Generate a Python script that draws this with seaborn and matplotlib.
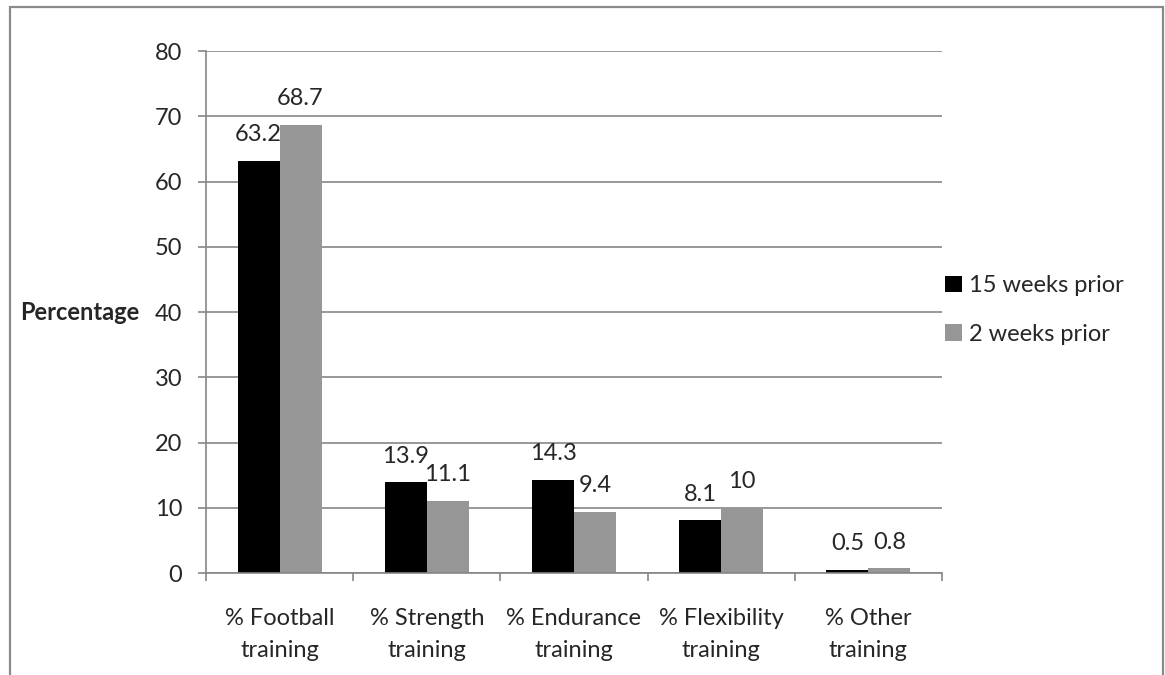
import matplotlib
matplotlib.use("Agg")
import matplotlib.pyplot as plt
from matplotlib.patches import Rectangle
import seaborn as sns
import pandas as pd

categories = ["% Football\ntraining", "% Strength\ntraining", "% Endurance\ntraining",
              "% Flexibility\ntraining", "% Other\ntraining"]
series_names = ["15 weeks prior", "2 weeks prior"]
weeks15 = [63.2, 13.9, 14.3, 8.1, 0.5]
weeks2 = [68.7, 11.1, 9.4, 10, 0.8]
value_labels15 = ["63.2", "13.9", "14.3", "8.1", "0.5"]
value_labels2 = ["68.7", "11.1", "9.4", "10", "0.8"]
y_ticks = [0, 10, 20, 30, 40, 50, 60, 70, 80]

sns.set_theme(style="white")
plt.rcParams["font.family"] = ["Lato", "DejaVu Sans"]

df = pd.DataFrame({
    "category": categories * 2,
    "series": [series_names[0]] * len(categories) + [series_names[1]] * len(categories),
    "value": weeks15 + weeks2,
})

fig = plt.figure(figsize=(11.65, 6.75), dpi=100)
ax = fig.add_axes([0.1768, 0.1511, 0.8086 - 0.1768, 0.9244 - 0.1511])

grid_c = "#868686"
fs = 17
sns.barplot(data=df, x="category", y="value", hue="series", order=categories,
            hue_order=series_names, palette=["#000000", "#969696"],
            width=0.57, gap=0, saturation=1, linewidth=0, ax=ax, legend=True)

ax.set_ylim(0, 80)
ax.set_xlim(-0.5, len(categories) - 0.5)
ax.set_yticks(y_ticks)
ax.yaxis.grid(True, color=grid_c, linewidth=1.2)
ax.set_axisbelow(True)
for side in ["top", "right"]:
    ax.spines[side].set_visible(False)
for side in ["left", "bottom"]:
    ax.spines[side].set_color(grid_c)
    ax.spines[side].set_linewidth(1.2)

ax.tick_params(axis="y", which="major", length=6, width=1.2, color=grid_c,
               pad=11, labelsize=fs, left=True)
ax.set_xticks(range(len(categories)))
ax.set_xticklabels(categories, linespacing=1.65)
ax.tick_params(axis="x", which="major", length=0, pad=25, labelsize=fs)
ax.set_xticks([i - 0.5 for i in range(len(categories) + 1)], minor=True)
ax.tick_params(axis="x", which="minor", length=6, width=1.2, color=grid_c, bottom=True)

ax.set_xlabel("")
ax.set_ylabel("Percentage", rotation=0, fontsize=fs, fontweight="bold",
              va="center", ha="right")
ax.yaxis.set_label_coords(-0.09, 0.5)

for cont, labels in zip(ax.containers, [value_labels15, value_labels2]):
    ax.bar_label(cont, labels=labels, padding=11, fontsize=fs)

leg = ax.legend(loc="center left", bbox_to_anchor=(945 / 1165, 1 - 310 / 675),
                bbox_transform=fig.transFigure, frameon=False, fontsize=fs,
                handlelength=0.7, handleheight=0.7, handletextpad=0.3,
                labelspacing=1.15, borderpad=0, borderaxespad=0)

fig.patches.append(Rectangle((10 / 1165, -0.05), 1153 / 1165, 1 - 7 / 675 + 0.05,
                             transform=fig.transFigure, fill=False,
                             edgecolor="#8a8a8a", linewidth=1.6))

fig.savefig("out.png", dpi=100)
